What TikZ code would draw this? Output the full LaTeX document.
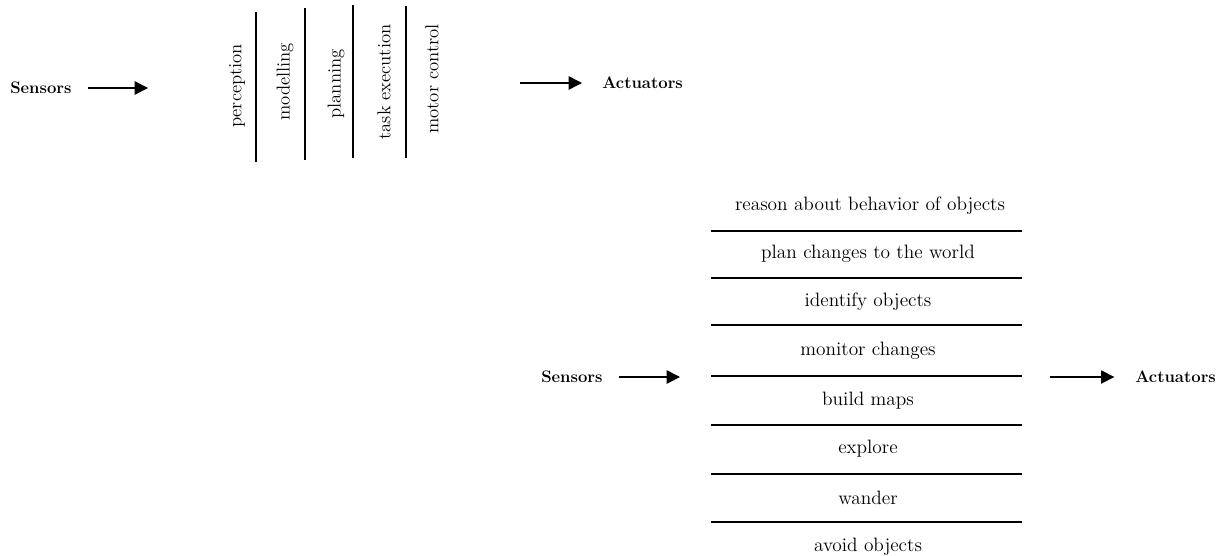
\documentclass[tikz,border=0pt]{standalone}
\usetikzlibrary{arrows.meta}
\begin{document}
\begin{tikzpicture}[x=0.75pt,y=-0.75pt,
  every node/.style={font=\fontsize{14.5}{17}\selectfont, inner sep=0pt},
  io/.style={font=\fontsize{12.5}{15}\selectfont\bfseries},
  layer/.style={rotate=90, font=\fontsize{14}{16}\selectfont},
  rule/.style={line width=1.1pt},
  flow/.style={line width=1.1pt, -{Triangle[length=10pt,width=10pt]}}]
\useasboundingbox (0,0) rectangle (1221,556);

% ---- top: horizontal decomposition ----
\node[io, anchor=west] (s1) at (10,88) {Sensors};
\coordinate (s1e) at (148,88);
\draw[flow,shorten <=12.5pt] (s1.east) -- (s1e);

\node[layer] (perc) at (237,86) {perception};
\node[layer] (mod)  at (285,82) {modelling};
\node[layer] (plan) at (336,84) {planning};
\node[layer] (task) at (384,82) {task execution};
\node[layer] (mot)  at (432,79) {motor control};
\draw[rule] (256,12) -- (256,162);
\draw[rule] (305,8) -- (305,160);
\draw[rule] (353,5) -- (353,158);
\draw[rule] (406,6) -- (406,158);

\coordinate (a1s) at (520,83);
\node[io, anchor=west] (act1) at (602,83) {Actuators};
\draw[flow,shorten >=15pt] (a1s) -- (act1.west);

% ---- bottom: vertical decomposition ----
\node (l1) at (870,206) {reason about behavior of objects};
\node (l2) at (868,254) {plan changes to the world};
\node (l3) at (868,302) {identify objects};
\node (l4) at (868,351) {monitor changes};
\node (l5) at (868,401) {build maps};
\node (l6) at (868,449) {explore};
\node (l7) at (868,498) {wander};
\node (l8) at (868,547) {avoid objects};
\foreach \y in {231,278,325,376,425,474,522}
  \draw[rule] (711,\y) -- (1022,\y);

\node[io, anchor=west] (s2) at (541,377) {Sensors};
\coordinate (s2e) at (680,377);
\draw[flow,shorten <=12pt] (s2.east) -- (s2e);

\coordinate (a2s) at (1050,377);
\node[io, anchor=west] (act2) at (1135,377) {Actuators};
\draw[flow,shorten >=15.5pt] (a2s) -- (act2.west);
\end{tikzpicture}
\end{document}
